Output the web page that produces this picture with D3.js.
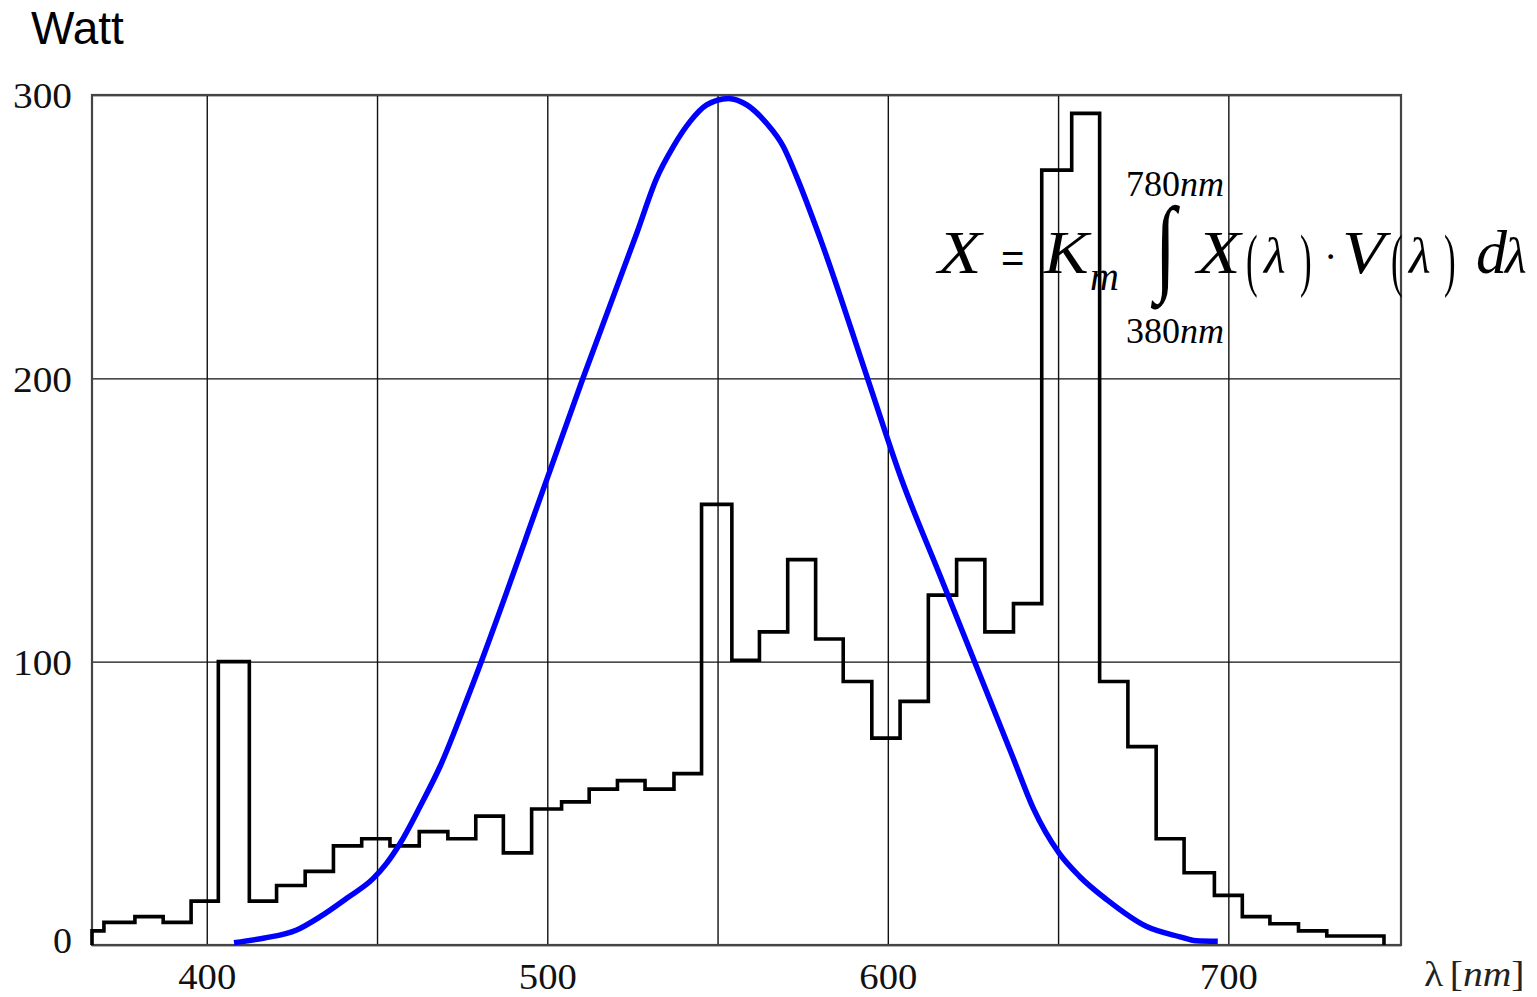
<!DOCTYPE html>
<html>
<head>
<meta charset="utf-8">
<script src="https://cdn.jsdelivr.net/npm/d3@7"></script>
<style>
  html, body { margin: 0; padding: 0; background: #fff; }
  svg { display: block; }
</style>
</head>
<body>
<svg id="chart" width="1537" height="997"></svg>
<script>
// ---------------- data ----------------
const xGridValues = [400, 450, 500, 550, 600, 650, 700];
const xTickLabels = [400, 500, 600, 700];
const yTickValues = [0, 100, 200, 300];

// histogram bin edges (nm) and power per bin (Watt)
const binEdges = [366.3, 369.8, 378.9, 387.2, 395.4, 403.4, 412.5, 420.5, 428.9, 437.2,
  445.5, 453.8, 462.4, 470.8, 479.0, 487.1, 495.4, 504.2, 512.3, 520.6,
  528.7, 537.2, 545.3, 554.2, 562.3, 570.6, 578.8, 586.9, 595.3, 603.6,
  611.9, 620.2, 628.5, 636.9, 645.2, 654.0, 662.2, 670.5, 678.8, 687.0,
  695.9, 704.1, 712.2, 720.6, 728.9, 745.7];
const watts = [5, 8, 10, 8, 15.5, 100, 15.5, 21, 26, 35,
  37.5, 35, 40, 37.5, 45.5, 32.5, 48, 50.5, 55, 58,
  55, 60.5, 155.5, 100.5, 110.5, 136, 108, 93, 73, 86,
  123.5, 136, 110.5, 120.5, 273.5, 293.5, 93, 70, 37.5, 25.5,
  17.5, 10, 7.5, 5, 3.2];

// luminous efficiency curve V(λ), scaled to 300
const vWavelength = [408.0, 416.6, 426.4, 433.3, 441.1, 448.9, 452.8, 456.8, 462.6, 468.5,
  477.3, 500.0, 510.5, 526.3, 532.1, 537.0, 541.9, 546.8, 553.2, 558.6,
  564.4, 569.3, 573.2, 580.1, 594.2, 604.1, 615.3, 624.6, 636.9, 642.7,
  650.3, 656.4, 664.3, 676.0, 685.8, 690.5, 696.9];
const vValue = [0.8, 2.4, 5.3, 10.0, 16.5, 23.5, 28.8, 35.9, 48.8, 63.0,
  89.5, 164.8, 200.1, 251.3, 270.6, 281.8, 290.6, 296.5, 298.8, 296.5,
  290.0, 281.8, 271.2, 249.5, 199.4, 164.1, 130.5, 102.6, 65.7, 48.3,
  32.4, 24.1, 16.0, 6.5, 2.9, 1.5, 1.3];

// ---------------- layout ----------------
const svg = d3.select("#chart");
const pLeft = 92, pRight = 1401, pTop = 95, pBottom = 945;
const x = d3.scaleLinear().domain([366.3, 750.7]).range([pLeft, pRight]);
const y = d3.scaleLinear().domain([0, 300]).range([pBottom, pTop]);
const serif = "'Liberation Serif', 'Times New Roman', serif";
const sans = "'Liberation Sans', Arial, sans-serif";

// grid via axes
const gx = svg.append("g").attr("transform", `translate(0,${pBottom})`)
  .call(d3.axisBottom(x).tickValues(xGridValues).tickSize(-(pBottom - pTop)).tickSizeOuter(0)
    .tickPadding(18.5).tickFormat(d => xTickLabels.includes(d) ? d : ""));
gx.select(".domain").remove();
gx.selectAll("line").attr("stroke", "#111").attr("stroke-width", 1.4);
gx.selectAll("text").attr("font-family", serif).attr("font-size", 36).attr("fill", "#111")
  .attr("textLength", d => xTickLabels.includes(d) ? 58 : null).attr("lengthAdjust", "spacingAndGlyphs");

const gy = svg.append("g").attr("transform", `translate(${pLeft},0)`)
  .call(d3.axisLeft(y).tickValues(yTickValues).tickSize(-(pRight - pLeft)).tickSizeOuter(0).tickPadding(20));
gy.select(".domain").remove();
gy.selectAll("line").attr("stroke", "#111").attr("stroke-width", 1.4);
gy.selectAll("text").attr("font-family", serif).attr("font-size", 36).attr("fill", "#111")
  .attr("dy", d => d === 0 ? "0.2em" : "0.36em")
  .attr("textLength", d => d === 0 ? 19 : 59).attr("lengthAdjust", "spacingAndGlyphs");

// frame
svg.append("rect").attr("x", pLeft).attr("y", pTop).attr("width", pRight - pLeft).attr("height", pBottom - pTop)
  .attr("fill", "none").attr("stroke", "#444").attr("stroke-width", 2.2);

// histogram step line
const stepPts = [[binEdges[0], 0]];
watts.forEach((w, i) => stepPts.push([binEdges[i], w]));
stepPts.push([binEdges[binEdges.length - 1], watts[watts.length - 1]]);
stepPts.push([binEdges[binEdges.length - 1], 0]);
svg.append("path")
  .attr("d", d3.line().x(d => x(d[0])).y(d => y(d[1])).curve(d3.curveStepAfter)(stepPts))
  .attr("fill", "none").attr("stroke", "#000").attr("stroke-width", 3.6).attr("stroke-linejoin", "miter");

// V(lambda) curve
const vPts = vWavelength.map((w, i) => [w, vValue[i]]);
svg.append("path")
  .attr("d", d3.line().x(d => x(d[0])).y(d => y(d[1])).curve(d3.curveMonotoneX)(vPts))
  .attr("fill", "none").attr("stroke", "#0000ff").attr("stroke-width", 5.5).attr("stroke-linecap", "butt");

// Title
svg.append("text").attr("x", 31).attr("y", 44).attr("font-family", sans).attr("font-size", 46)
  .attr("fill", "#000").text("Watt");

// x-axis unit label
const xl = svg.append("text").attr("transform", "translate(1424,986) scale(1.1,1)").attr("font-family", serif)
  .attr("font-size", 36).attr("fill", "#222");
xl.append("tspan").text("λ");
xl.append("tspan").attr("dx", 6).text("[");
xl.append("tspan").attr("font-style", "italic").text("nm");
xl.append("tspan").text("]");

// formula
function t(xp, yp, txt, size, italic, sx, fam) {
  return svg.append("text").attr("transform", `translate(${xp},${yp}) scale(${sx || 1},1)`)
    .attr("font-family", fam || serif)
    .attr("font-size", size).attr("font-style", italic ? "italic" : "normal").attr("fill", "#000").text(txt);
}
t(938, 273, "X", 62, true, 1.15);
t(1001, 272, "=", 40, false, 1, sans);
t(1044, 273, "K", 62, true, 1.08);
t(1090, 290, "m", 40, true);
t(1155, 281, "∫", 107, false, 0.72);
t(1126, 196, "780", 36, false); t(1180, 196, "nm", 36, true);
t(1126, 343, "380", 36, false); t(1180, 343, "nm", 36, true);
t(1197, 273, "X", 62, true, 1.15);
t(1246, 283, "(", 70, false, 0.5);
t(1264, 273, "λ", 50, true);
t(1300, 283, ")", 70, false, 0.5);
t(1324, 270, "·", 40, false);
t(1342, 273, "V", 62, true, 1.12);
t(1391, 283, "(", 70, false, 0.5);
t(1409, 273, "λ", 50, true);
t(1444, 283, ")", 70, false, 0.5);
t(1476, 273, "d", 62, true);
t(1505, 273, "λ", 50, true);
</script>
</body>
</html>
